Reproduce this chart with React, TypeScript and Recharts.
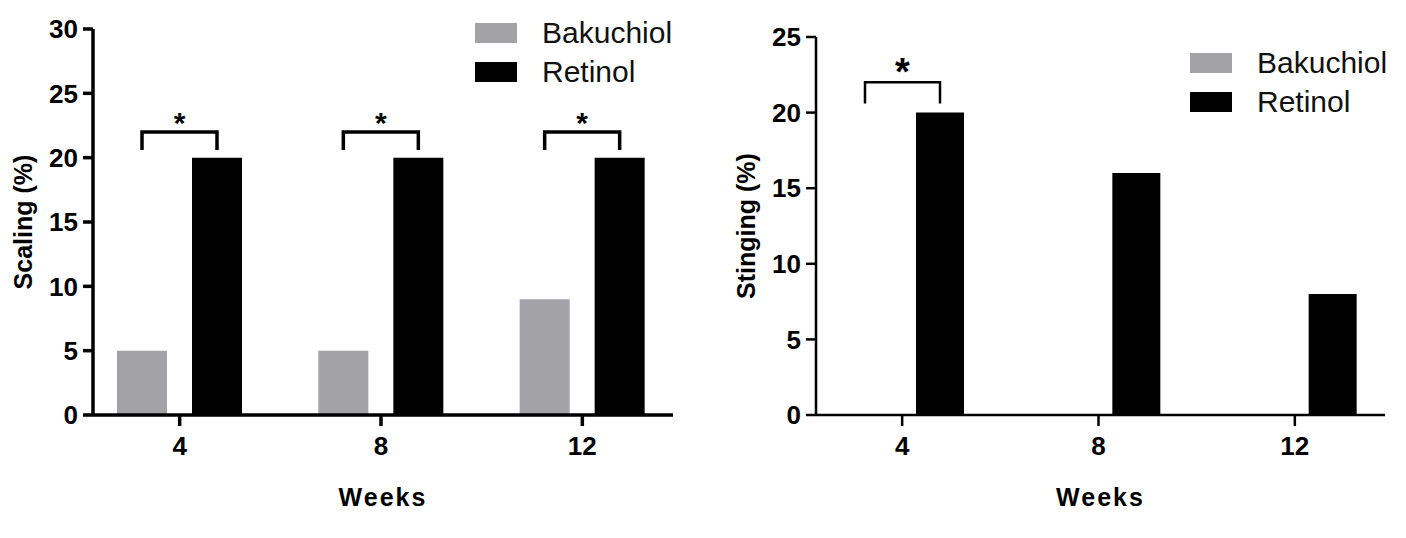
import { BarChart, Bar, XAxis, YAxis, Legend, LabelList } from "recharts";

const weeks = ["4", "8", "12"];
const scalingBakuchiol = [5, 5, 9];
const scalingRetinol = [20, 20, 20];
const stingingBakuchiol = [0, 0, 0];
const stingingRetinol = [20, 16, 8];
const scalingSig = [true, true, true];
const stingingSig = [true, false, false];
const scalingTicks = [0, 5, 10, 15, 20, 25, 30];
const stingingTicks = [0, 5, 10, 15, 20, 25];

const FONT = "'Liberation Sans', Arial, Helvetica, sans-serif";
const GREY = "#a3a3a7";

const scalingData = weeks.map((w, i) => ({
  week: w,
  Bakuchiol: scalingBakuchiol[i],
  Retinol: scalingRetinol[i],
}));
const stingingData = weeks.map((w, i) => ({
  week: w,
  Bakuchiol: stingingBakuchiol[i],
  Retinol: stingingRetinol[i],
}));

function renderLegend({ payload }: any) {
  return (
    <div style={{ fontFamily: FONT }}>
      {(payload || []).map((p: any) => (
        <div key={p.value} style={{ display: "flex", alignItems: "center", height: 38.5 }}>
          <span style={{ display: "inline-block", width: 42, height: 20, background: p.color }} />
          <span style={{ marginLeft: 25, fontSize: 30, color: "#111" }}>{p.value}</span>
        </div>
      ))}
    </div>
  );
}

function makeBracket(sig: boolean[], span: number, starSize: number, sw: number) {
  return (props: any) => {
    const { x, y, width, height, value, index } = props;
    if (!sig[index] || !value) return null;
    const pu = height / value;
    const right = x + width / 2;
    const left = right - span;
    const top = y - (22 - value) * pu;
    const leg = y - (20.6 - value) * pu;
    const starY = y - (23.1 - value) * pu;
    return (
      <g>
        <path
          d={`M${left},${leg} L${left},${top} L${right},${top} L${right},${leg}`}
          fill="none"
          stroke="#000"
          strokeWidth={sw}
        />
        <text
          x={(left + right) / 2}
          y={starY + starSize * 0.52}
          textAnchor="middle"
          fontSize={starSize}
          fontWeight={700}
          fontFamily={FONT}
        >
          *
        </text>
      </g>
    );
  };
}

interface PanelProps {
  data: any[];
  left: number;
  width: number;
  margin: { top: number; right: number; left: number; bottom: number };
  yWidth: number;
  yMax: number;
  ticks: number[];
  yLabel: string;
  barSize: number;
  barGap: number;
  padding: { left: number; right: number };
  sw: number;
  sig: boolean[];
  starSize: number;
  legendPos: { left: number; top: number };
}

function Panel(p: PanelProps) {
  const tickStyle = { fontSize: 26, fontWeight: 700, fill: "#000", fontFamily: FONT };
  const line = { stroke: "#000", strokeWidth: p.sw };
  return (
    <div style={{ position: "absolute", left: p.left, top: 0 }}>
      <BarChart
        width={p.width}
        height={538}
        data={p.data}
        margin={p.margin}
        barGap={p.barGap}
        barSize={p.barSize}
      >
        <XAxis
          dataKey="week"
          padding={p.padding}
          height={60}
          tick={tickStyle}
          tickSize={11}
          tickMargin={11}
          axisLine={line}
          tickLine={line}
          label={{
            value: "Weeks",
            position: "bottom",
            offset: 13,
            style: { fontSize: 25, fontWeight: 700, fill: "#000", fontFamily: FONT, letterSpacing: 2 },
          }}
        />
        <YAxis
          width={p.yWidth}
          domain={[0, p.yMax]}
          ticks={p.ticks}
          interval={0}
          tick={tickStyle}
          tickSize={10}
          tickMargin={5}
          axisLine={line}
          tickLine={line}
          label={{
            value: p.yLabel,
            angle: -90,
            position: "insideLeft",
            offset: p.yWidth - 70,
            style: { textAnchor: "middle", fontSize: 25, fontWeight: 700, fill: "#000", fontFamily: FONT },
          }}
        />
        <Legend
          content={renderLegend}
          wrapperStyle={{ position: "absolute", left: p.legendPos.left, top: p.legendPos.top, width: 260, height: 0, overflow: "visible" }}
        />
        <Bar dataKey="Bakuchiol" fill={GREY} isAnimationActive={false} />
        <Bar dataKey="Retinol" fill="#000" isAnimationActive={false}>
          <LabelList dataKey="Retinol" content={makeBracket(p.sig, p.barSize + p.barGap, p.starSize, p.sw)} />
        </Bar>
      </BarChart>
    </div>
  );
}

export default function App() {
  return (
    <div style={{ position: "absolute", left: 0, top: 0, width: 1406, height: 538, background: "#fff" }}>
      <Panel
        data={scalingData}
        left={0}
        width={700}
        margin={{ top: 29, right: 27, left: 0, bottom: 63 }}
        yWidth={93}
        yMax={30}
        ticks={scalingTicks}
        yLabel="Scaling (%)"
        barSize={50}
        barGap={25}
        padding={{ left: -14, right: -10 }}
        sw={3.5}
        sig={scalingSig}
        starSize={30}
        legendPos={{ left: 475, top: 14 }}
      />
      <Panel
        data={stingingData}
        left={700}
        width={706}
        margin={{ top: 37, right: 21, left: 0, bottom: 63 }}
        yWidth={116}
        yMax={25}
        ticks={stingingTicks}
        yLabel="Stinging (%)"
        barSize={48}
        barGap={27}
        padding={{ left: -12, right: -8 }}
        sw={2.5}
        sig={stingingSig}
        starSize={38}
        legendPos={{ left: 490, top: 44 }}
      />
    </div>
  );
}
